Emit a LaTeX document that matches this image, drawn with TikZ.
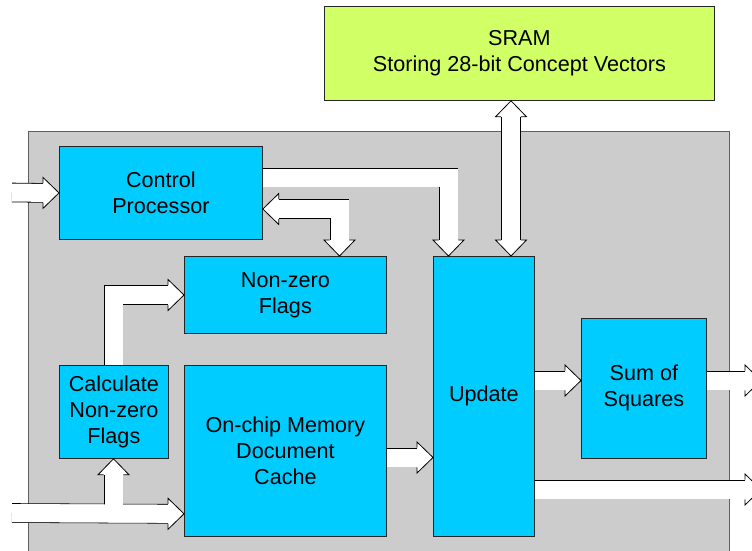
\documentclass[tikz,border=0pt]{standalone}
\usepackage{fontspec}
\setmainfont{Liberation Sans}
\usetikzlibrary{calc}
\definecolor{cyanbox}{HTML}{00CCFF}
\definecolor{limebox}{HTML}{D0FF66}
\definecolor{bggray}{HTML}{CCCCCC}
\definecolor{bgline}{HTML}{606060}
\newcommand\ahead[2]{\filldraw[head,shift={(#2)},rotate=#1] (-16pt,9.8pt) -- (-16pt,15.5pt) -- (0pt,0pt) -- (-16pt,-15.5pt) -- (-16pt,-9.8pt);}
\begin{document}
\begin{tikzpicture}[x=1pt,y=-1pt,
 blk/.style={draw=black!85, line width=0.8pt, fill=cyanbox, inner sep=0pt, align=center, anchor=north west, font=\fontsize{21.6}{26}\selectfont},
 shaft/.style={draw=black, line width=0.8pt, double=white, double distance=18pt, line join=miter},
 head/.style={draw=black, fill=white, line width=0.8pt, line join=miter}]
\clip (0,0) rectangle (752,551);
\fill[white] (0,0) rectangle (752,551);
\filldraw[fill=bggray, draw=bgline, line width=1pt] (28,131) rectangle (729,560);

% nodes
\node[blk, fill=limebox, minimum width=390pt, minimum height=94pt] (sram) at (324,6) {SRAM\\Storing 28-bit Concept Vectors};
\node[blk, minimum width=203pt, minimum height=93pt] (cp) at (59,146) {Control\\Processor};
\node[blk, minimum width=202pt, minimum height=77pt] (nzf) at (184,256) {Non-zero\\Flags};
\node[blk, minimum width=109pt, minimum height=93pt] (calc) at (59,365) {Calculate\\Non-zero\\Flags};
\node[blk, minimum width=202pt, minimum height=171pt] (ocm) at (184,365) {On-chip Memory\\Document\\Cache};
\node[blk, minimum width=101pt, minimum height=280pt] (upd) at (433,256) {Update};
\node[blk, minimum width=125pt, minimum height=140pt] (sos) at (581,318) {Sum of\\Squares};

% coordinates
\coordinate (in1) at (12,192.5);
\coordinate (t2) at ($(upd.north west)+(15.5,0)$);
\coordinate (t3a) at ($(cp.north east)+(0,63)$);
\coordinate (t3b) at ($(nzf.north west)+(155.5,0)$);
\coordinate (t4a) at ($(sram.south west)+(187,0)$);
\coordinate (t4b) at ($(upd.north west)+(78,0)$);
\coordinate (s5) at ($(calc.north west)+(54.5,0)$);
\coordinate (t5) at ($(nzf.north west)+(0,39)$);
\coordinate (in2) at (12,513);
\coordinate (t6) at ($(ocm.south west)+(0,-23)$);
\coordinate (t6b) at ($(calc.south west)+(54.5,0)$);
\coordinate (s7) at ($(ocm.north east)+(0,92.5)$);
\coordinate (t8) at ($(sos.north west)+(0,62.5)$);
\coordinate (s9) at ($(sos.north east)+(0,62.5)$);
\coordinate (t9) at (761,380.5);
\coordinate (s10) at ($(upd.north east)+(0,233.5)$);
\coordinate (t10) at (761,489.5);

% arrows
\draw[shaft] (in1) -- ($(cp.west)+(-16,0)$); \ahead{0}{cp.west}
\draw[shaft] ($(cp.north east)+(0,31.5)$) -| ($(t2)+(0,-16)$); \ahead{-90}{t2}
\draw[shaft] ($(t3a)+(16,0)$) -| ($(t3b)+(0,-16)$); \ahead{180}{t3a} \ahead{-90}{t3b}
\draw[shaft] ($(t4a)+(0,16)$) -- ($(t4b)+(0,-16)$); \ahead{90}{t4a} \ahead{-90}{t4b}
\draw[shaft] (s5) |- ($(t5)+(-16,0)$); \ahead{0}{t5}
\draw[shaft] (in2) -- ($(t6)+(-16,0)$);
\draw[shaft] (in2 -| t6b) -- ($(t6b)+(0,16)$);
\draw[white, line width=18pt] (in2) -- ($(t6)+(-16,0)$);
\ahead{0}{t6} \ahead{90}{t6b}
\draw[shaft] (s7) -- ($(s7 -| upd.west)+(-16,0)$); \ahead{0}{s7 -| upd.west}
\draw[shaft] (t8 -| upd.east) -- ($(t8)+(-16,0)$); \ahead{0}{t8}
\draw[shaft] (s9) -- ($(t9)+(-16,0)$); \ahead{0}{t9}
\draw[shaft] (s10) -- ($(t10)+(-16,0)$); \ahead{0}{t10}
\end{tikzpicture}
\end{document}
